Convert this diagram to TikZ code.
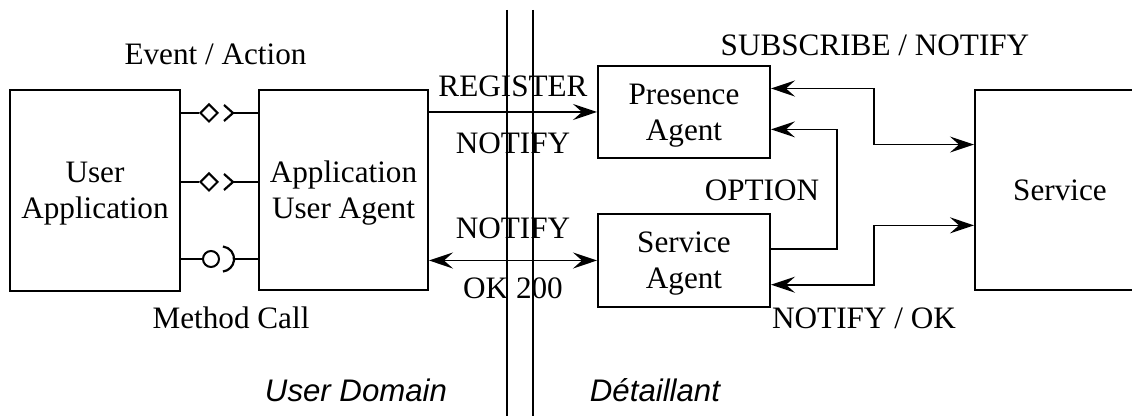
\documentclass[tikz,border=0pt]{standalone}
\usepackage{fontspec}
\setmainfont{Liberation Serif}
\setsansfont{Liberation Sans}
\usetikzlibrary{arrows.meta,positioning,calc,shapes.geometric}
\tikzset{
  pres/.style={font=\fontsize{15.6}{18}\selectfont,
    line width=.8pt, >={Stealth[length=12pt,width=8pt,inset=4.5pt]}},
  unit/.style={draw,line width=1pt,inner sep=0pt,align=center,text depth=-4.5pt},
  tag/.style={inner sep=0pt,align=center},
  domlabel/.style={font=\sffamily\itshape\fontsize{15.6}{18}\selectfont,inner sep=0pt},
  port/.style={draw,line width=1pt,fill=white,inner sep=0pt},
  wire/.style={line width=.8pt},
  flow/.style={->,line width=.8pt},
  duplex/.style={<->,line width=.8pt},
}
\begin{document}
\begin{tikzpicture}[pres,x=.5pt,y=.5pt]
  % Same proportions as the 1132 x 416 drawing; the Service box runs off the edge.
  \path[use as bounding box] (0,0) rectangle (1132,-416);
  \clip (0,0) rectangle (1132,-416);

  % ---------------- user side ----------------
  \node[unit,minimum width=85pt,minimum height=100.5pt] (userapp) at (95,-190.5)
    {User\\Application};
  \node[unit,minimum width=84.5pt,minimum height=100pt] (uagent) at (343.5,-190)
    {Application\\User Agent};

  % Two event interfaces (diamond + chevron) and one method call (ball + socket).
  \node[port,diamond,minimum width=9pt,minimum height=9pt] (evtop) at (209,-113) {};
  \draw[wire] (userapp.east |- evtop) -- (evtop.west);
  \draw[wire,line width=1.1pt] ($(evtop.east)+(5,8)$) -- ($(evtop.east)+(14,0)$)
    coordinate (evtoptip) -- ($(evtop.east)+(5,-8)$);
  \draw[wire] (evtoptip) -- (uagent.west |- evtop);

  \node[port,diamond,minimum width=9pt,minimum height=9pt] (evmid) at (209,-182) {};
  \draw[wire] (userapp.east |- evmid) -- (evmid.west);
  \draw[wire,line width=1.1pt] ($(evmid.east)+(5,8)$) -- ($(evmid.east)+(14,0)$)
    coordinate (evmidtip) -- ($(evmid.east)+(5,-8)$);
  \draw[wire] (evmidtip) -- (uagent.west |- evmid);

  \node[port,circle,minimum size=8pt] (call) at (211,-259) {};
  \draw[wire] (userapp.east |- call) -- (call.west);
  \draw[wire,line width=1.1pt] ($(call.east)+(3,12.5)$)
    arc[start angle=83,end angle=-83,radius=6.3pt];
  \coordinate (calltip) at ($(call.east)+(14,0)$);
  \draw[wire] (calltip) -- (uagent.west |- call);

  \node[tag] (event) at (215.5,-54) {Event / Action};
  \node[tag] (method) at (231,-318) {Method Call};

  % ---------------- provider side ----------------
  \node[unit,minimum width=86pt,minimum height=46pt] (presence) at (684,-112)
    {Presence\\Agent};
  \node[unit,minimum width=86pt,minimum height=46.5pt] (svcagent) at (684,-260.5)
    {Service\\Agent};
  \node[unit,minimum width=85pt,minimum height=100pt] (service) at (1060,-190)
    {Service};

  % Across the domain border.
  \draw[flow] (uagent.east |- presence.west) -- (presence.west)
    node[tag,midway,above=7pt] (register) {REGISTER}
    node[tag,midway,below=10pt] (notifyup) {NOTIFY};
  \draw[duplex] (uagent.east |- svcagent.west) -- (svcagent.west)
    node[tag,midway,above=10.5pt] (notifylow) {NOTIFY}
    node[tag,midway,below=8pt] (okay) {OK 200};

  % Ports on the box edges and the two vertical runs.
  \coordinate (pasub) at ($(presence.north east)!.25!(presence.south east)$);
  \coordinate (paopt) at ($(presence.north east)!.685!(presence.south east)$);
  \coordinate (saopt) at ($(svcagent.north east)!.376!(svcagent.south east)$);
  \coordinate (santf) at ($(svcagent.north east)!.755!(svcagent.south east)$);
  \coordinate (svsub) at ($(service.north west)!.275!(service.south west)$);
  \coordinate (svntf) at ($(service.north west)!.675!(service.south west)$);
  \coordinate (bus) at (874,0);
  \coordinate (loop) at (837,0);

  \draw[duplex] (pasub) -| (bus |- svsub) -- (svsub);
  \draw[flow] (saopt) -| (loop |- paopt) -- (paopt);
  \draw[duplex] (svntf) -| (bus |- santf) -- (santf);

  \node[tag] (subscribe) at (875,-45) {SUBSCRIBE / NOTIFY};
  \node[tag] (option) at (762,-190) {OPTION};
  \node[tag] (notifyok) at (864,-318) {NOTIFY / OK};

  % ---------------- domain border ----------------
  \draw[wire] (507,-10) -- (507,-416);
  \draw[wire] (533,-10) -- (533,-416);
  \node[domlabel] (userdom) at (356,-390) {User Domain};
  \node[domlabel] (retail) at (655,-390) {Détaillant};
\end{tikzpicture}
\end{document}
